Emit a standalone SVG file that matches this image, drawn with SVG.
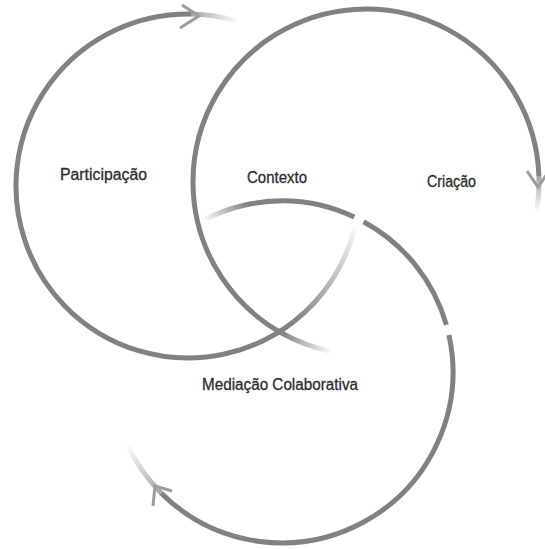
<svg xmlns="http://www.w3.org/2000/svg" width="545" height="549" viewBox="0 0 545 549">
  <style>
    .arc { fill: none; stroke: #818181; stroke-width: 5; }
    .fade { fill: none; stroke-width: 5; }
    .head { fill: none; stroke: #9c9c9c; stroke-width: 3; stroke-linejoin: miter; }
    .lbl { font-family: "Liberation Sans", "DejaVu Sans", sans-serif; font-size: 16px; fill: #2c2c2c; stroke: #2c2c2c; stroke-width: 0.3; }
  </style>
  <defs>
    <linearGradient id="gL_tail" gradientUnits="userSpaceOnUse" x1="354.9" y1="227.6" x2="293.9" y2="321.5">
      <stop offset="0" stop-color="#818181" stop-opacity="0.05"/>
      <stop offset="1" stop-color="#818181" stop-opacity="1"/>
    </linearGradient>
    <linearGradient id="gL_head" gradientUnits="userSpaceOnUse" x1="191" y1="14" x2="238.3" y2="21.5">
      <stop offset="0" stop-color="#9a9a9a" stop-opacity="0.9"/>
      <stop offset="1" stop-color="#9a9a9a" stop-opacity="0"/>
    </linearGradient>
    <linearGradient id="gR_tail" gradientUnits="userSpaceOnUse" x1="330" y1="351.2" x2="282.1" y2="333.3">
      <stop offset="0" stop-color="#818181" stop-opacity="0.05"/>
      <stop offset="1" stop-color="#818181" stop-opacity="1"/>
    </linearGradient>
    <linearGradient id="gR_head" gradientUnits="userSpaceOnUse" x1="538.9" y1="176" x2="536.4" y2="212">
      <stop offset="0" stop-color="#9a9a9a" stop-opacity="0.9"/>
      <stop offset="1" stop-color="#9a9a9a" stop-opacity="0"/>
    </linearGradient>
    <linearGradient id="gB_tail" gradientUnits="userSpaceOnUse" x1="204.4" y1="219.6" x2="246.4" y2="204.7">
      <stop offset="0" stop-color="#818181" stop-opacity="0.05"/>
      <stop offset="1" stop-color="#818181" stop-opacity="1"/>
    </linearGradient>
    <linearGradient id="gB_head" gradientUnits="userSpaceOnUse" x1="161.1" y1="492.9" x2="127" y2="444.3">
      <stop offset="0" stop-color="#9a9a9a" stop-opacity="0.9"/>
      <stop offset="1" stop-color="#9a9a9a" stop-opacity="0"/>
    </linearGradient>
  </defs>

  <g id="connectors">
    <g id="cycle-participacao">
      <path class="fade" stroke="url(#gL_tail)" d="M354.9,227.6 A172,172 0 0 1 293.9,321.5"/>
      <path class="arc" d="M293.9,321.5 A172,172 0 1 1 191,14"/>
      <path class="fade" stroke="url(#gL_head)" d="M191,14 A172,172 0 0 1 238.3,21.5"/>
      <path class="head" d="M182,5 L199,16 L180,28"/>
    </g>
    <g id="cycle-criacao">
      <path class="fade" stroke="url(#gR_tail)" d="M330,351.2 A173,173 0 0 1 282.1,333.3"/>
      <path class="arc" d="M282.1,333.3 A173,173 0 1 1 538.9,176"/>
      <path class="fade" stroke="url(#gR_head)" d="M538.9,176 A173,173 0 0 1 536.4,212"/>
      <path class="head" d="M527,171 L538,187 L549,171"/>
    </g>
    <g id="cycle-mediacao">
      <path class="fade" stroke="url(#gB_tail)" d="M204.4,219.6 A171,171 0 0 1 246.4,204.7"/>
      <path class="arc" d="M246.4,204.7 A171,171 0 0 1 354.3,217"/>
      <path class="arc" d="M363.6,221.7 A171,171 0 0 1 446.4,324.9"/>
      <path class="arc" d="M448.9,335 A171,171 0 0 1 161.1,492.9"/>
      <path class="fade" stroke="url(#gB_head)" d="M161.1,492.9 A171,171 0 0 1 127,444.3"/>
      <path class="head" d="M172,491 L155,486 L153,506"/>
    </g>
  </g>

  <g id="node-participacao">
    <text class="lbl" x="60" y="180" textLength="87" lengthAdjust="spacingAndGlyphs">Participação</text>
  </g>
  <g id="node-contexto">
    <text class="lbl" x="247" y="182.5" textLength="60" lengthAdjust="spacingAndGlyphs">Contexto</text>
  </g>
  <g id="node-criacao">
    <text class="lbl" x="427" y="186.5" textLength="49" lengthAdjust="spacingAndGlyphs">Criação</text>
  </g>
  <g id="node-mediacao">
    <text class="lbl" x="202" y="390" textLength="156" lengthAdjust="spacingAndGlyphs">Mediação Colaborativa</text>
  </g>
</svg>
